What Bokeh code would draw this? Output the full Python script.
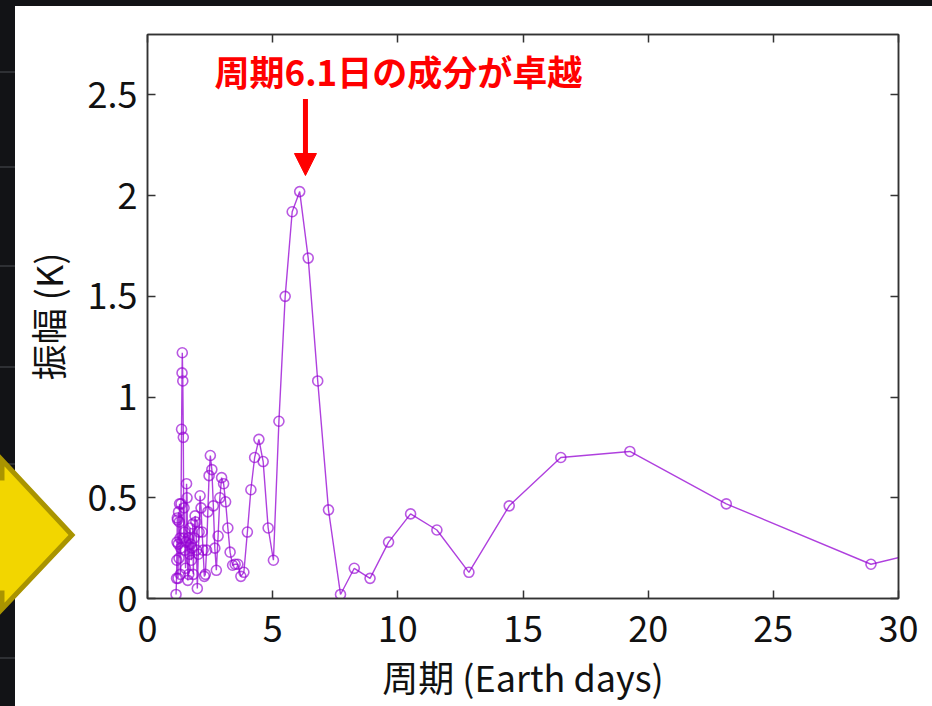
from bokeh.plotting import figure
from bokeh.models import (Range1d, LinearAxis, FixedTicker, NumeralTickFormatter, Label,
                          Arrow, NormalHead, ColumnDataSource)
from bokeh.embed import file_html
from bokeh.resources import INLINE

# ---- data ----
periods = [38.53, 28.90, 23.12, 19.27, 16.51, 14.45, 12.84, 11.56, 10.51, 9.63,
           8.89, 8.26, 7.71, 7.23, 6.80, 6.42, 6.08, 5.78, 5.50, 5.25,
           5.03, 4.82, 4.62, 4.45, 4.28, 4.13, 3.99, 3.85, 3.73, 3.61,
           3.50, 3.40, 3.30, 3.21, 3.12, 3.04, 2.96, 2.89, 2.82, 2.75,
           2.69, 2.63, 2.57, 2.51, 2.46, 2.41, 2.36, 2.31, 2.27, 2.22,
           2.18, 2.14, 2.10, 2.06, 2.03, 1.99, 1.96, 1.93, 1.90, 1.86,
           1.83, 1.81, 1.78, 1.75, 1.73, 1.70, 1.68, 1.65, 1.63, 1.61,
           1.58, 1.56, 1.54, 1.52, 1.50, 1.48, 1.46, 1.45, 1.43, 1.41,
           1.39, 1.38, 1.36, 1.34, 1.33, 1.31, 1.30, 1.28, 1.27, 1.26,
           1.24, 1.23, 1.22, 1.20, 1.19, 1.18, 1.17, 1.16, 1.14]
amplitudes = [0.46, 0.17, 0.47, 0.73, 0.70, 0.46, 0.13, 0.34, 0.42, 0.28,
              0.10, 0.15, 0.02, 0.44, 1.08, 1.69, 2.02, 1.92, 1.50, 0.88,
              0.19, 0.35, 0.68, 0.79, 0.70, 0.54, 0.33, 0.13, 0.11, 0.17,
              0.17, 0.165, 0.23, 0.35, 0.48, 0.57, 0.60, 0.50, 0.31, 0.14,
              0.25, 0.46, 0.64, 0.71, 0.61, 0.43, 0.24, 0.12, 0.11, 0.24,
              0.33, 0.45, 0.51, 0.33, 0.22, 0.05, 0.24, 0.38, 0.41, 0.30,
              0.12, 0.37, 0.25, 0.19, 0.27, 0.35, 0.22, 0.12, 0.30, 0.09,
              0.50, 0.57, 0.28, 0.15, 0.24, 0.33, 0.45, 0.30, 0.80, 1.08,
              1.22, 1.12, 0.84, 0.47, 0.25, 0.12, 0.30, 0.47, 0.38, 0.20,
              0.43, 0.27, 0.10, 0.39, 0.40, 0.28, 0.19, 0.10, 0.02]
x_ticks = [0, 5, 10, 15, 20, 25, 30]
y_ticks = [0, 0.5, 1, 1.5, 2, 2.5]
x_label = "周期 (Earth days)"
y_label = "振幅 (K)"
note_text = "周期6.1日の成分が卓越"
note_period = 6.31

FONT = "Noto Sans CJK JP"
LINE = "#9400d3"
AX = "#333333"

src = ColumnDataSource(dict(x=periods, y=amplitudes))

p = figure(width=932, height=706, x_range=Range1d(0, 30), y_range=Range1d(0, 2.8),
           output_backend="svg", toolbar_location=None,
           min_border_left=147, min_border_right=34, min_border_top=34, min_border_bottom=108,
           background_fill_color="white", border_fill_color=None,
           outline_line_color=AX, outline_line_width=1.5)
p.grid.visible = False

# slide surroundings (dark edges and the yellow arrow) as a page background behind the canvas
deco = ("<svg xmlns='http://www.w3.org/2000/svg' width='932' height='706'>"
        "<rect width='932' height='706' fill='white'/>"
        "<rect x='0' y='0' width='15' height='706' fill='%23121316'/>"
        "<rect x='0' y='0' width='932' height='6' fill='%23121316'/>"
        "<g stroke='%232e3034' stroke-width='2'>"
        "<line x1='0' y1='72' x2='15' y2='72'/><line x1='0' y1='167' x2='15' y2='167'/>"
        "<line x1='0' y1='266' x2='15' y2='266'/><line x1='0' y1='367' x2='15' y2='367'/>"
        "<line x1='0' y1='464' x2='15' y2='464'/><line x1='0' y1='658' x2='15' y2='658'/>"
        "</g>"
        "<polygon points='-10,478 2,478 2,460 72,535 2,609 2,593 -10,593' "
        "fill='%23f2d600' stroke='%23a99400' stroke-width='5'/>"
        "</svg>")
p.styles = {"background-image": f'url("data:image/svg+xml;utf8,{deco}")',
            "background-repeat": "no-repeat", "background-color": "white"}

for ax in (p.xaxis[0], p.yaxis[0]):
    ax.major_tick_in = 8
    ax.major_tick_out = 0
    ax.minor_tick_in = 0
    ax.minor_tick_out = 0
    ax.axis_line_color = AX
    ax.axis_line_width = 1.5
    ax.major_tick_line_color = AX
    ax.major_tick_line_width = 1.5
    ax.major_label_text_font = FONT
    ax.major_label_text_font_size = "36px"
    ax.major_label_text_color = "#111111"
    ax.axis_label_text_font = FONT
    ax.axis_label_text_font_size = "36px"
    ax.axis_label_text_font_style = "normal"
    ax.axis_label_text_color = "#111111"
    ax.formatter = NumeralTickFormatter(format="0.[0]")

p.xaxis[0].ticker = FixedTicker(ticks=x_ticks)
p.yaxis[0].ticker = FixedTicker(ticks=y_ticks)
p.xaxis[0].axis_label = x_label
p.yaxis[0].axis_label = y_label
p.xaxis[0].major_label_standoff = 17
p.xaxis[0].axis_label_standoff = 5
p.yaxis[0].major_label_standoff = 10
p.yaxis[0].axis_label_standoff = 12

# mirrored tick marks on the top and right edges (no labels)
for loc, tk in (("above", x_ticks), ("right", y_ticks)):
    ax2 = LinearAxis(ticker=FixedTicker(ticks=tk), major_tick_in=8, major_tick_out=0,
                     minor_tick_in=0, minor_tick_out=0, axis_line_color=AX, axis_line_width=1.5,
                     major_tick_line_color=AX, major_tick_line_width=1.5,
                     major_label_text_color=None, major_label_text_font_size="8px",
                     major_label_standoff=0)
    p.add_layout(ax2, loc)

p.line("x", "y", source=src, line_color=LINE, line_width=1.4, line_alpha=0.75)
p.scatter("x", "y", source=src, marker="circle", size=10, fill_color=None,
          line_color=LINE, line_width=1.6, line_alpha=0.65)

# annotation: text and arrow
p.add_layout(Label(x=2.68, y=2.62, text=note_text, text_font=FONT, text_font_size="35px",
                   text_font_style="bold", text_color="#ff0000", text_align="left",
                   text_baseline="middle"))
p.add_layout(Arrow(x_start=note_period, y_start=2.48, x_end=note_period, y_end=2.10,
                   line_color="#ff0000", line_width=5,
                   end=NormalHead(size=22, fill_color="#ff0000", line_color="#ff0000", line_width=1)))

open("out.html", "w").write(file_html(p, INLINE))
